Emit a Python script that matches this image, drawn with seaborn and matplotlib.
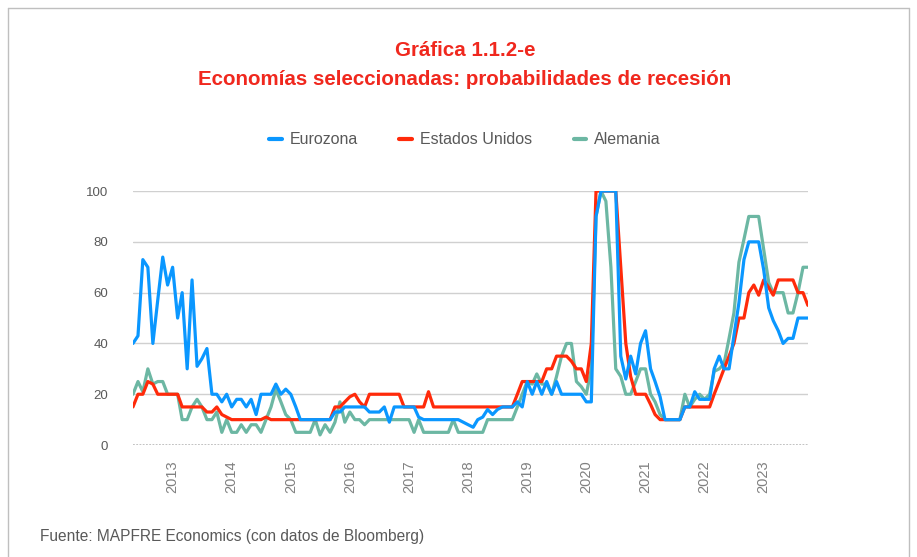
import pandas as pd
import matplotlib
matplotlib.use("Agg")
import matplotlib.pyplot as plt
import seaborn as sns
from matplotlib.lines import Line2D

# Datos mensuales (mayo 2012 - octubre 2023)
fechas = pd.date_range("2012-05-01", periods=138, freq="MS")

eurozona = [
    40, 43, 73, 70, 40, 57, 74, 63,                      # 2012
    70, 50, 60, 30, 65, 31, 34, 38, 20, 20, 17, 20,      # 2013
    15, 18, 18, 15, 18, 12, 20, 20, 20, 24, 20, 22,      # 2014
    20, 15, 10, 10, 10, 10, 10, 10, 10, 13, 13, 15,      # 2015
    15, 15, 15, 15, 13, 13, 13, 15, 9, 15, 15, 15,       # 2016
    15, 15, 11, 10, 10, 10, 10, 10, 10, 10, 10, 9,       # 2017
    8, 7, 10, 11, 14, 12, 14, 15, 15, 15, 17, 15,        # 2018
    25, 20, 25, 20, 25, 20, 25, 20, 20, 20, 20, 20,      # 2019
    17, 17, 90, 100, 100, 100, 100, 35, 26, 35, 28, 40,  # 2020
    45, 30, 25, 19, 10, 10, 10, 10, 15, 15, 21, 18,      # 2021
    18, 18, 30, 35, 30, 30, 43, 56, 73, 80, 80, 80,      # 2022
    69, 54, 49, 45, 40, 42, 42, 50, 50, 50,              # 2023
]

estados_unidos = [
    15, 20, 20, 25, 24, 20, 20, 20,
    20, 20, 15, 15, 15, 15, 15, 13, 13, 15, 12, 11,
    10, 10, 10, 10, 10, 10, 10, 11, 10, 10, 10, 10,
    10, 10, 10, 10, 10, 10, 10, 10, 10, 15, 15, 17,
    19, 20, 17, 15, 20, 20, 20, 20, 20, 20, 20, 15,
    15, 15, 15, 15, 21, 15, 15, 15, 15, 15, 15, 15,
    15, 15, 15, 15, 15, 15, 15, 15, 15, 15, 20, 25,
    25, 25, 25, 25, 30, 30, 35, 35, 35, 33, 30, 30,
    25, 40, 100, 100, 100, 100, 100, 70, 40, 27, 20, 20,
    20, 16, 12, 10, 10, 10, 10, 10, 15, 15, 15, 15,
    15, 15, 20, 25, 30, 35, 40, 50, 50, 60, 63, 59,
    65, 62, 59, 65, 65, 65, 65, 60, 60, 55,
]

alemania = [
    20, 25, 21, 30, 24, 25, 25, 20,
    20, 20, 10, 10, 15, 18, 15, 10, 10, 13, 5, 10,
    5, 5, 8, 5, 8, 8, 5, 10, 15, 22, 17, 12,
    10, 5, 5, 5, 5, 10, 4, 8, 5, 9, 17, 9,
    13, 10, 10, 8, 10, 10, 10, 10, 10, 10, 10, 10,
    10, 5, 10, 5, 5, 5, 5, 5, 5, 10, 5, 5,
    5, 5, 5, 5, 10, 10, 10, 10, 10, 10, 15, 20,
    25, 24, 28, 24, 24, 20, 27, 35, 40, 40, 25, 23,
    20, 30, 90, 100, 96, 70, 30, 27, 20, 20, 25, 30,
    30, 20, 17, 12, 10, 10, 10, 10, 20, 15, 18, 20,
    18, 20, 29, 30, 32, 42, 52, 72, 81, 90, 90, 90,
    77, 64, 60, 60, 60, 52, 52, 60, 70, 70,
]

anios = list(range(2013, 2024))
series = ["Eurozona", "Estados Unidos", "Alemania"]
colores = {"Eurozona": "#0A97FF", "Estados Unidos": "#FF2A0A", "Alemania": "#6CB7A3"}

df = pd.DataFrame({"fecha": fechas, "Eurozona": eurozona,
                   "Estados Unidos": estados_unidos, "Alemania": alemania})
largo = df.melt(id_vars="fecha", var_name="serie", value_name="prob")

sns.set_theme(style="white")
plt.rcParams["font.family"] = ["Liberation Sans", "DejaVu Sans"]

fig = plt.figure(figsize=(9.17, 5.57), dpi=100)
ax = fig.add_axes([0.145, 0.201, 0.736, 0.456])

# grilla horizontal
for v in [20, 40, 60, 80, 100]:
    ax.axhline(v, color="#D0D0D0", lw=1.0, zorder=0)
ax.axhline(0, color="#BDBDBD", lw=1.3, ls=(0, (1, 0.8)), zorder=0)

# dibujo: Alemania abajo, después EE.UU., Eurozona arriba
for z, nombre in enumerate(["Alemania", "Estados Unidos", "Eurozona"]):
    sns.lineplot(data=largo[largo["serie"] == nombre], x="fecha", y="prob",
                 color=colores[nombre], lw=2.3, ax=ax, legend=False, zorder=2 + z)

ax.set_xlim(fechas[0], fechas[-1])
ax.set_ylim(0, 100)
ax.set_yticks([0, 20, 40, 60, 80, 100])
ax.set_yticklabels(["0", "20", "40", "60", "80", "100"], color="#595959", fontsize=9.5)
ax.set_xticks([pd.Timestamp(f"{a}-01-01") for a in anios])
ax.set_xticklabels([str(a) for a in anios], rotation=90, color="#808080", fontsize=10.5)
ax.tick_params(axis="y", length=0, pad=18)
ax.tick_params(axis="x", length=0, pad=11)
ax.set_xlabel("")
ax.set_ylabel("")
for s in ax.spines.values():
    s.set_visible(False)

# títulos
rojo = "#F0281E"
fig.text(0.507, 0.910, "Gráfica 1.1.2-e", ha="center", va="center",
         color=rojo, fontsize=14.8, fontweight="bold")
fig.text(0.507, 0.858, "Economías seleccionadas: probabilidades de recesión",
         ha="center", va="center", color=rojo, fontsize=14.8, fontweight="bold")

# leyenda
handles = [Line2D([0], [0], color=colores[n], lw=3) for n in series]
fig.legend(handles, series, loc="center", bbox_to_anchor=(0.507, 0.749), ncol=3,
           frameon=False, fontsize=11.5, handlelength=0.8, columnspacing=2.6,
           handletextpad=0.5, labelcolor="#595959")

fig.text(0.044, 0.036, "Fuente: MAPFRE Economics (con datos de Bloomberg)",
         color="#595959", fontsize=11.2, va="center")

# marco
marco = dict(color="#BFBFBF", lw=1.0, transform=fig.transFigure)
fig.lines.append(Line2D([0.009, 0.009], [0.0, 0.986], **marco))
fig.lines.append(Line2D([0.009, 0.991], [0.986, 0.986], **marco))
fig.lines.append(Line2D([0.991, 0.991], [0.0, 0.986], **marco))

fig.savefig("out.png", dpi=100)
